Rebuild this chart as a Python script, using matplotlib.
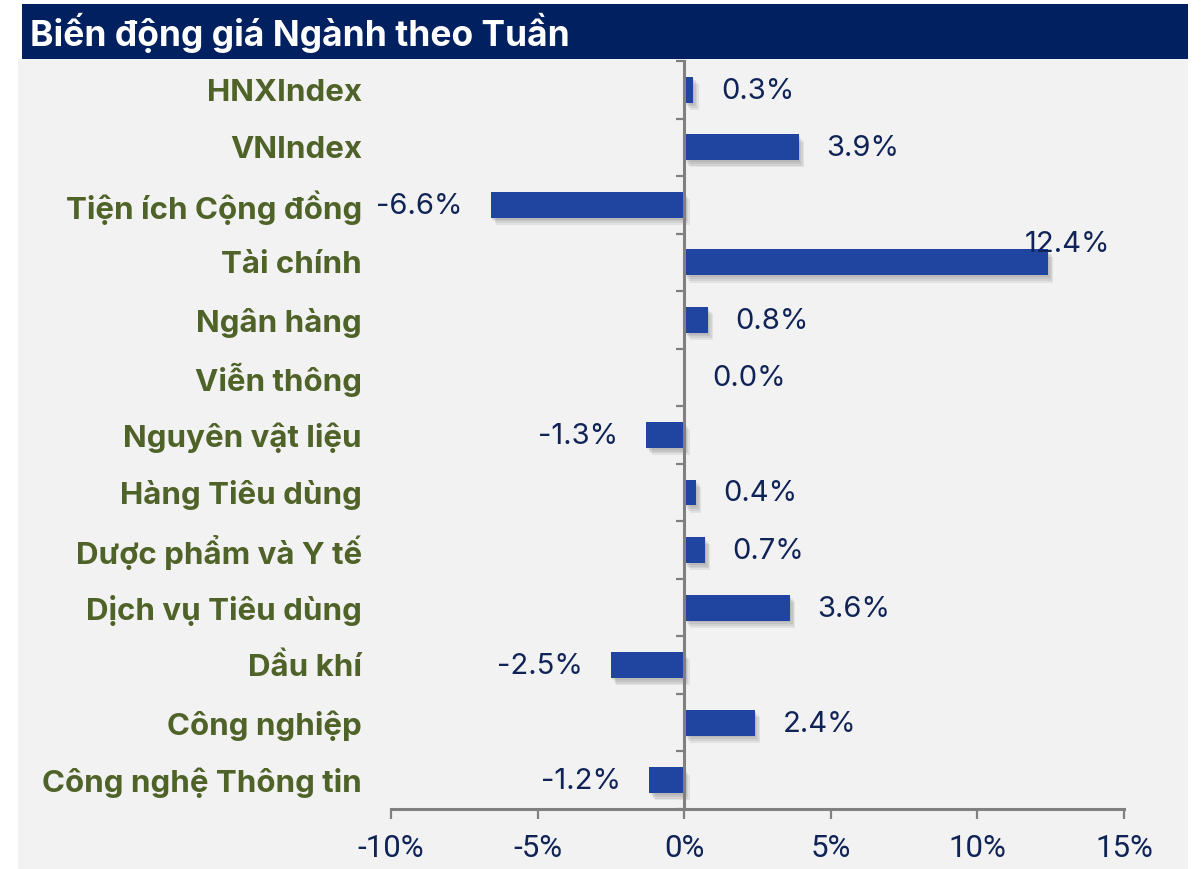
import matplotlib
matplotlib.use("Agg")
import matplotlib.pyplot as plt
import matplotlib.patheffects as pe
from matplotlib.patches import Rectangle

categories = ["HNXIndex", "VNIndex", "Tiện ích Cộng đồng", "Tài chính", "Ngân hàng",
              "Viễn thông", "Nguyên vật liệu", "Hàng Tiêu dùng", "Dược phẩm và Y tế",
              "Dịch vụ Tiêu dùng", "Dầu khí", "Công nghiệp", "Công nghệ Thông tin"]
values = [0.3, 3.9, -6.6, 12.4, 0.8, 0.0, -1.3, 0.4, 0.7, 3.6, -2.5, 2.4, -1.2]
xticks = [-10, -5, 0, 5, 10, 15]
xtick_labels = ["-10%", "-5%", "0%", "5%", "10%", "15%"]
title = "Biến động giá Ngành theo Tuần"

W, H = 1202, 869
fig = plt.figure(figsize=(W / 100, H / 100), dpi=100)
fig.patch.set_facecolor("white")

def px(x0, y0, x1, y1):
    return (x0 / W, 1 - y1 / H, (x1 - x0) / W, (y1 - y0) / H)

# background panel and title bar
x0, y0, w, h = px(18, 59, 1188, 869)
fig.patches.append(Rectangle((x0, y0), w, h, transform=fig.transFigure,
                             facecolor="#F2F2F2", edgecolor="none", zorder=-10))
x0, y0, w, h = px(22, 4, 1188, 59)
fig.patches.append(Rectangle((x0, y0), w, h, transform=fig.transFigure,
                             facecolor="#002060", edgecolor="none", zorder=-10))
fig.text(30 / W, 1 - 33 / H, title, color="white", fontsize=25.5, fontweight="bold",
         family=["Inter", "DejaVu Sans"], ha="left", va="center")

ax = fig.add_axes(px(391, 61, 1124, 809))
ax.set_zorder(1)
ax.set_facecolor("none")
n = len(categories)
ypos = list(range(n))
bar_color = "#1F45A0"
bars = ax.barh(ypos, values, height=0.45, color=bar_color, zorder=3)
shadow = [pe.SimplePatchShadow(offset=(o, -1.3 * o), shadow_rgbFace="#404040", alpha=0.09)
          for o in (1.0, 2.0, 3.0, 4.0)]
for b in bars:
    b.set_path_effects(shadow + [pe.Normal()])

ax.set_xlim(-10, 15)
ax.set_ylim(n - 0.5, -0.5)

gray = "#808080"
for s in ["top", "right"]:
    ax.spines[s].set_visible(False)
ax.spines["left"].set_position(("data", 0))
ax.spines["left"].set_color(gray)
ax.spines["left"].set_linewidth(2.2)
ax.spines["left"].set_zorder(4)
ax.spines["bottom"].set_color(gray)
ax.spines["bottom"].set_linewidth(2.2)

ax.set_xticks(xticks)
ax.set_xticklabels(xtick_labels, family=["Roboto", "DejaVu Sans"],
                   fontsize=22.5, color="#0F2357")
ax.tick_params(axis="x", direction="out", length=7, width=1.6, color=gray, pad=11)

ax.set_yticks([i + 0.5 for i in range(-1, n)])
ax.set_yticklabels([])
ax.tick_params(axis="y", direction="out", length=5.5, width=1.6, color=gray)

label_color = "#4F6228"
for i, c in enumerate(categories):
    ax.annotate(c, xy=(0, i), xycoords=("axes fraction", "data"), xytext=(-21, -2),
                textcoords="offset points", ha="right", va="center", fontsize=22.5,
                fontweight="bold", color=label_color, family=["Inter", "DejaVu Sans"])

val_color = "#0F2357"
xmax_label = 14.52
fs_val = 21
for i, v in enumerate(values):
    txt = f"{v:.1f}%"
    if v >= 0:
        if v > 11:
            ax.annotate(txt, xy=(xmax_label, i), xytext=(0, 13), textcoords="offset points",
                        ha="right", va="center", fontsize=fs_val, color=val_color,
                        family=["Inter", "DejaVu Sans"], zorder=5)
        else:
            ax.annotate(txt, xy=(v, i), xytext=(20, -1), textcoords="offset points",
                        ha="left", va="center", fontsize=fs_val, color=val_color,
                        family=["Inter", "DejaVu Sans"], zorder=5)
    else:
        ax.annotate(txt, xy=(v, i), xytext=(-20, -1), textcoords="offset points",
                    ha="right", va="center", fontsize=fs_val, color=val_color,
                    family=["Inter", "DejaVu Sans"], zorder=5)

fig.savefig("out.png", dpi=100)
